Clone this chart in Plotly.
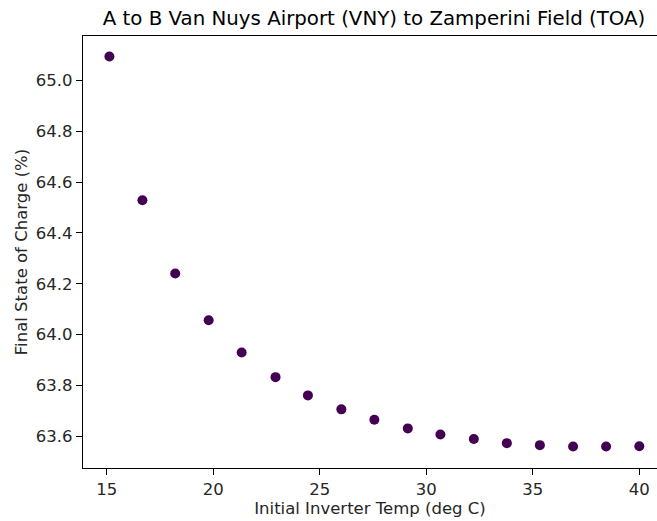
import plotly.graph_objects as go

temps = [15.12, 16.67, 18.21, 19.78, 21.33, 22.92, 24.44, 26.01, 27.56,
         29.13, 30.66, 32.23, 33.78, 35.33, 36.89, 38.44, 40.0]
soc = [65.095, 64.529, 64.240, 64.056, 63.929, 63.832, 63.760, 63.705, 63.664,
       63.630, 63.606, 63.588, 63.572, 63.564, 63.559, 63.559, 63.560]
x_ticks = [15, 20, 25, 30, 35, 40]
y_ticks = [63.6, 63.8, 64.0, 64.2, 64.4, 64.6, 64.8, 65.0]

font = "DejaVu Sans"
fig = go.Figure(go.Scatter(
    x=temps, y=soc, mode="markers",
    marker=dict(color="#440154", size=10, line=dict(width=0)),
))
fig.update_layout(
    width=657, height=521,
    margin=dict(l=83, r=0, t=36, b=53),
    paper_bgcolor="white", plot_bgcolor="white",
    showlegend=False,
    font=dict(family=font, size=16.5, color="#262626"),
    title=dict(text="A to B Van Nuys Airport (VNY) to Zamperini Field (TOA)",
               x=0.507, xanchor="center", xref="paper",
               y=1 - 18 / 521, yanchor="middle",
               font=dict(family=font, size=19.8, color="#000000")),
)
fig.update_xaxes(
    range=[13.88, 40.83], tickvals=x_ticks, ticktext=[str(v) for v in x_ticks],
    showgrid=False, zeroline=False,
    showline=True, linecolor="black", linewidth=1.3, mirror=True,
    ticks="outside", ticklen=6, tickwidth=1.3, tickcolor="black",
    title=dict(text="Initial Inverter Temp (deg C)", standoff=3,
               font=dict(family=font, size=16.5, color="#262626")),
)
fig.update_yaxes(
    range=[63.474, 65.176], tickvals=y_ticks, ticktext=[f"{v:.1f}" for v in y_ticks],
    showgrid=False, zeroline=False,
    showline=True, linecolor="black", linewidth=1.3, mirror=False,
    ticks="outside", ticklen=6, tickwidth=1.3, tickcolor="black",
    title=dict(text="Final State of Charge (%)", standoff=4,
               font=dict(family=font, size=16.5, color="#262626")),
)
fig.write_html("out.html")
